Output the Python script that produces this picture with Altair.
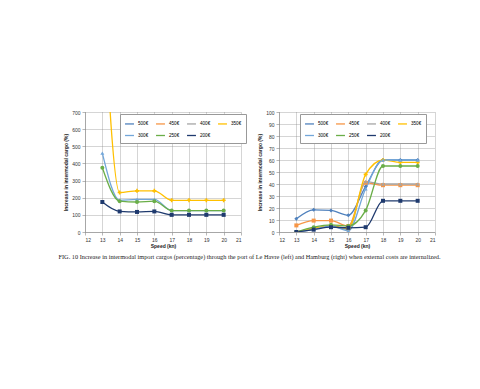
import altair as alt
import pandas as pd

speeds = [13, 14, 15, 16, 17, 18, 19, 20]
series = ["500€", "450€", "400€", "350€", "300€", "250€", "200€"]
colors = ["#4F81BD", "#F79646", "#A5A5A5", "#FFC000", "#72A6D9", "#6AAE48", "#1F3A6E"]
shapes = ["diamond", "square", "triangle-up", "cross", "triangle-up", "circle", "square"]

# Le Havre (left)
lh_350 = [1500, 230, 240, 240, 185, 185, 185, 185]
lh_300 = [460, 185, 190, 190, 125, 125, 125, 125]
lh_250 = [375, 180, 175, 180, 125, 125, 125, 125]
lh_200 = [175, 120, 117, 120, 100, 100, 100, 100]

# Hamburg (right)
hh_500 = [11, 18.5, 18, 14, 38, 60, 60, 60]
hh_450 = [5.5, 9.5, 9.5, 5, 41, 39, 39, 39]
hh_400 = [0, 3, 5, 2, 42, 40, 40, 40]
hh_350 = [0, 3, 5, 3, 48, 60, 58, 58]
hh_300 = [0, 2, 5, 1, 36, 60, 60, 60]
hh_250 = [0, 4, 6, 5, 18, 55, 55, 55]
hh_200 = [0, 2, 4, 3.5, 4, 26, 26, 26]

lehavre = {"350€": lh_350, "300€": lh_300, "250€": lh_250, "200€": lh_200}
hamburg = {"500€": hh_500, "450€": hh_450, "400€": hh_400, "350€": hh_350,
           "300€": hh_300, "250€": hh_250, "200€": hh_200}

caption = ("FIG. 10     Increase in intermodal import cargos (percentage) through the port of "
           "Le Havre (left) and Hamburg (right) when external costs are internalized.")


def frame(d):
    rows = []
    for s, vals in d.items():
        for x, v in zip(speeds, vals):
            rows.append({"speed": x, "value": v, "series": s})
    return pd.DataFrame(rows)


def panel(df, ymax, ystep, lx, ly):
    base = alt.Chart(df)
    leg = alt.Legend(title=None, orient="none", legendX=lx, legendY=ly, columns=4,
                     direction="horizontal", symbolType="stroke",
                     labelFontSize=4.6, labelFont="Liberation Sans", symbolSize=80,
                     symbolStrokeWidth=1.3, padding=4, strokeColor="#999999",
                     fillColor="white", rowPadding=3, columnPadding=4, labelLimit=40,
                     labelOffset=3)
    x = alt.X("speed:Q", scale=alt.Scale(domain=[12, 21], nice=False),
              axis=alt.Axis(values=list(range(12, 22)), title="Speed (kn)", titlePadding=1))
    y = alt.Y("value:Q", scale=alt.Scale(domain=[0, ymax], nice=False),
              axis=alt.Axis(values=list(range(0, ymax + 1, ystep)),
                            title="Increase in intermodal cargo (%)"))
    color = alt.Color("series:N", scale=alt.Scale(domain=series, range=colors), legend=leg)
    layers = [base.mark_line(interpolate="monotone", strokeWidth=1.3, clip=True).encode(
        x=x, y=y, color=color)]
    present = set(df["series"])
    for s, c, sh in zip(series, colors, shapes):
        if s not in present:
            continue
        layers.append(base.transform_filter(alt.datum.series == s).mark_point(
            filled=True, size=16, opacity=1, clip=True, shape=sh, color=c).encode(x=x, y=y))
    return alt.layer(*layers).properties(width=156, height=120)


left = panel(frame(lehavre), 700, 100, 35, 2)
right = panel(frame(hamburg), 100, 10, 21, 2)

chart = alt.hconcat(left, right, spacing=10).resolve_scale(
    color="independent"
).properties(
    title=alt.TitleParams(text=caption, orient="bottom", anchor="middle", font="Liberation Serif",
                          fontSize=6.3, fontWeight="normal", color="#222222", offset=6),
    padding={"left": 47, "top": 102, "right": 0, "bottom": 0},
    background="white",
).configure_view(strokeOpacity=0).configure_axis(
    labelFont="Liberation Sans", labelFontSize=5, labelColor="#333333",
    titleFont="Liberation Sans", titleFontSize=5, titleFontWeight="bold", titleColor="#222222",
    gridColor="#888888", gridDash=[1, 1], gridWidth=0.7,
    domainColor="#888888", domainWidth=0.6, tickColor="#888888", tickSize=3, tickWidth=0.6,
    labelPadding=2, titlePadding=3,
)

chart.save("out.html", embed_options={"renderer": "svg", "actions": False})
